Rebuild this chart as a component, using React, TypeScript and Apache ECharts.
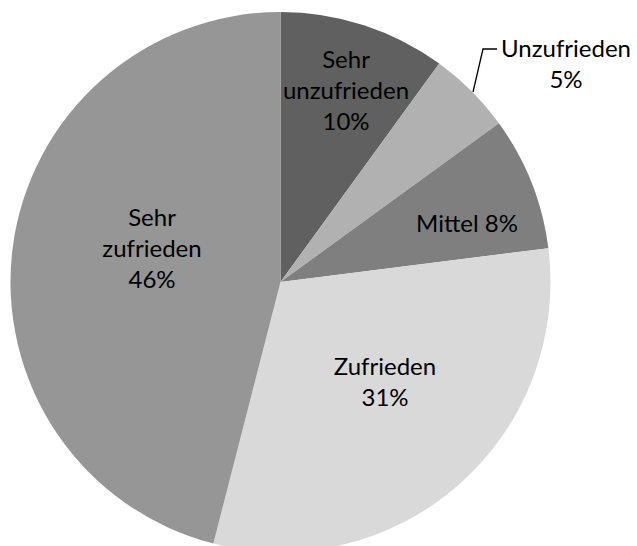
import React, { useEffect, useRef } from "react";
import * as echarts from "echarts";

const categories = ["Sehr unzufrieden", "Unzufrieden", "Mittel", "Zufrieden", "Sehr zufrieden"];
const values = [10, 5, 8, 31, 46];
const colors = ["#606060", "#b1b1b1", "#7f7f7f", "#d9d9d9", "#969696"];
// label texts: line breaks as in the reference
const labelLines = [
  ["Sehr", "unzufrieden"],
  ["Unzufrieden"],
  ["Mittel"],
  ["Zufrieden"],
  ["Sehr", "zufrieden"],
];
const percentOnSameLine = [false, false, true, false, false];
// label centres (px)
const labelPos = [
  [346, 89],
  [566, 63],
  [467, 222],
  [385, 381],
  [152, 247],
];
const outsideIndex = 1;
const leaderPoints = [
  [473, 92],
  [483, 49],
  [497, 49],
];

export default function App() {
  const ref = useRef<HTMLDivElement>(null);
  useEffect(() => {
    if (!ref.current) return;
    const chart = echarts.init(ref.current, undefined, { renderer: "svg" });
    const data = categories.map((name, i) => ({
      name,
      value: values[i],
      itemStyle: { color: colors[i] },
      label: i === outsideIndex ? { position: "outside" } : { position: "inside" },
      labelLine: i === outsideIndex ? { show: true } : { show: false },
    }));
    chart.setOption({
      animation: false,
      backgroundColor: "#ffffff",
      series: [
        {
          type: "pie",
          center: [280.5, 282],
          radius: [0, 270],
          startAngle: 90,
          clockwise: true,
          data,
          itemStyle: { borderWidth: 0 },
          label: {
            show: true,
            color: "#000",
            fontFamily: "Lato",
            fontSize: 24,
            lineHeight: 31,
            align: "center",
            overflow: "none",
            alignTo: "none",
            edgeDistance: 0,
            bleedMargin: 0,
            formatter: (p: any) => {
              const i = p.dataIndex;
              const lines = labelLines[i].slice();
              if (percentOnSameLine[i]) {
                lines[lines.length - 1] = lines[lines.length - 1] + " " + values[i] + "%";
              } else {
                lines.push(values[i] + "%");
              }
              return lines.join("\n");
            },
          },
          labelLine: {
            lineStyle: { color: "#000", width: 1.3 },
          },
          labelLayout: (p: any) => {
            const i = p.dataIndex;
            const res: any = {
              x: labelPos[i][0],
              y: labelPos[i][1],
              align: "center",
              verticalAlign: "middle",
            };
            if (i === outsideIndex) res.labelLinePoints = leaderPoints;
            return res;
          },
          emphasis: { disabled: true },
        },
      ],
    });
    return () => chart.dispose();
  }, []);
  return (
    <div
      ref={ref}
      style={{ position: "absolute", left: 0, top: 0, width: 637, height: 546 }}
    />
  );
}
